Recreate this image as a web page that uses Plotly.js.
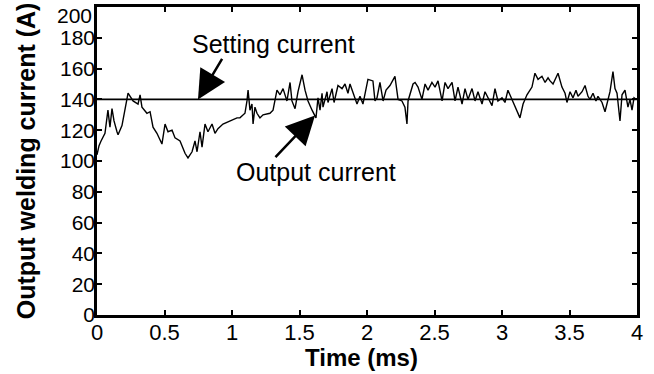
<!DOCTYPE html>
<html>
<head>
<meta charset="utf-8">
<script src="https://cdn.plot.ly/plotly-3.0.1.min.js"></script>
<style>html,body{margin:0;padding:0;background:#fff;}#chart{width:654px;height:374px;}</style>
</head>
<body>
<div id="chart"></div>
<script>
// Output welding current (A) vs time (ms)
const timeMs = [0.000,0.015,0.030,0.059,0.081,0.096,0.111,0.126,0.148,0.156,0.185,0.222,0.230,0.267,0.304,0.319,0.333,0.370,0.393,0.415,0.444,0.481,0.504,0.526,0.556,0.578,0.615,0.652,0.674,0.704,0.726,0.741,0.763,0.778,0.800,0.822,0.852,0.874,0.896,0.933,0.985,1.037,1.059,1.096,1.111,1.119,1.133,1.148,1.156,1.170,1.185,1.207,1.230,1.281,1.304,1.319,1.333,1.356,1.378,1.407,1.430,1.444,1.467,1.489,1.519,1.541,1.563,1.593,1.607,1.622,1.637,1.652,1.667,1.674,1.704,1.711,1.741,1.756,1.785,1.815,1.837,1.859,1.874,1.896,1.926,1.948,1.970,2.007,2.044,2.059,2.074,2.096,2.119,2.141,2.170,2.207,2.230,2.259,2.281,2.296,2.304,2.341,2.356,2.378,2.407,2.430,2.452,2.481,2.504,2.526,2.556,2.578,2.600,2.630,2.652,2.674,2.704,2.726,2.748,2.778,2.800,2.822,2.852,2.874,2.896,2.926,2.948,2.970,3.000,3.022,3.044,3.074,3.096,3.133,3.156,3.185,3.222,3.244,3.267,3.296,3.319,3.341,3.356,3.378,3.415,3.444,3.467,3.481,3.504,3.526,3.548,3.563,3.593,3.615,3.637,3.652,3.674,3.696,3.711,3.741,3.763,3.785,3.800,3.822,3.837,3.852,3.874,3.889,3.911,3.933,3.948,3.963,3.978,3.993];
const outputCurrent = [104,110,113,118,133,122,134,126,119,117,123,141,144,139,137,143,135,131,132,122,118,111,124,119,120,115,113,105,102,106,113,106,119,109,124,119,124,118,121,124,126,128,128,131,139,146,133,137,124,135,131,128,130,131,133,141,146,143,147,139,151,139,134,145,156,146,139,133,130,128,141,133,144,135,145,138,147,138,149,147,150,144,150,145,137,142,137,153,152,139,141,151,139,146,149,155,140,139,135,124,139,150,151,148,140,150,146,151,148,152,139,151,147,151,139,148,137,147,140,147,139,145,137,145,141,136,147,139,141,138,146,140,135,128,137,143,148,157,153,155,151,154,152,150,157,148,144,138,145,141,146,142,145,149,142,140,144,139,142,138,132,139,145,158,147,144,126,143,146,135,140,133,141,140];
const settingTime = [0, 4];
const settingCurrent = [140, 140];
const xTicks = [0,0.5,1,1.5,2,2.5,3,3.5,4];
const xTickText = ['0','0.5','1','1.5','2','2.5','3','3.5','4'];
const yTicks = [0,20,40,60,80,100,120,140,160,180,200];
const yTickText = ['0','20','40','60','80','100','120','140','160','180',''];
const yTopLabel = '200';
const labels = {x: 'Time (ms)', y: 'Output welding current (A)', setting: 'Setting current', output: 'Output current'};

const FONT = 'Liberation Sans, Arial, Helvetica, sans-serif';

const traces = [
  {x: timeMs, y: outputCurrent, type: 'scatter', mode: 'lines',
   line: {color: '#000', width: 1.4}, hoverinfo: 'skip'},
  {x: settingTime, y: settingCurrent, type: 'scatter', mode: 'lines',
   line: {color: '#000', width: 1.6}, hoverinfo: 'skip'}
];

const axisCommon = {
  showline: true, linecolor: '#000', linewidth: 2.8, mirror: 'ticks',
  ticks: 'inside', ticklen: 5, tickwidth: 2, tickcolor: '#000',
  showgrid: false, zeroline: false, ticklabeloverflow: 'allow'
};

const layout = {
  width: 654, height: 374,
  margin: {l: 97, r: 17, t: 7, b: 59},
  paper_bgcolor: '#fff', plot_bgcolor: '#fff',
  showlegend: false,
  xaxis: Object.assign({}, axisCommon, {
    range: [0, 4], tickvals: xTicks, ticktext: xTickText,
    ticklabelstandoff: -4,
    tickfont: {family: FONT, size: 22, color: '#000'}
  }),
  yaxis: Object.assign({}, axisCommon, {
    range: [0, 200], tickvals: yTicks, ticktext: yTickText,
    ticklabelstandoff: -5,
    tickfont: {family: FONT, size: 21, color: '#000'}
  }),
  annotations: [
    {x: 0, y: 0.974, xref: 'paper', yref: 'paper', xanchor: 'right', yanchor: 'middle', xshift: -3,
     text: yTopLabel, showarrow: false, font: {family: FONT, size: 21, color: '#000'}},
    {x: 0.489, y: -0.137, xref: 'paper', yref: 'paper', xanchor: 'center', yanchor: 'middle',
     text: '<b>' + labels.x + '</b>', showarrow: false,
     font: {family: FONT, size: 24, color: '#000'}},
    {x: -0.131, y: 0.5, xref: 'paper', yref: 'paper', xanchor: 'center', yanchor: 'middle',
     text: '<b>' + labels.y + '</b>', showarrow: false,
     textangle: -90, font: {family: FONT, size: 25, color: '#000'}},
    {x: 1.311, y: 176, xref: 'x', yref: 'y', text: labels.setting, showarrow: false,
     font: {family: FONT, size: 25, color: '#000'}},
    {x: 1.622, y: 93, xref: 'x', yref: 'y', text: labels.output, showarrow: false,
     font: {family: FONT, size: 25, color: '#000'}},
    {x: 0.748, y: 140, xref: 'x', yref: 'y', text: '', showarrow: true,
     arrowhead: 2, arrowsize: 2.3, arrowwidth: 2.5, arrowcolor: '#000', ax: 25, ay: -42, standoff: 0},
    {x: 1.615, y: 129.5, xref: 'x', yref: 'y', text: '', showarrow: true,
     arrowhead: 2, arrowsize: 2.3, arrowwidth: 2.5, arrowcolor: '#000', ax: -41, ay: 43, standoff: 0}
  ]
};

Plotly.newPlot('chart', traces, layout, {staticPlot: true, displayModeBar: false});
</script>
</body>
</html>
